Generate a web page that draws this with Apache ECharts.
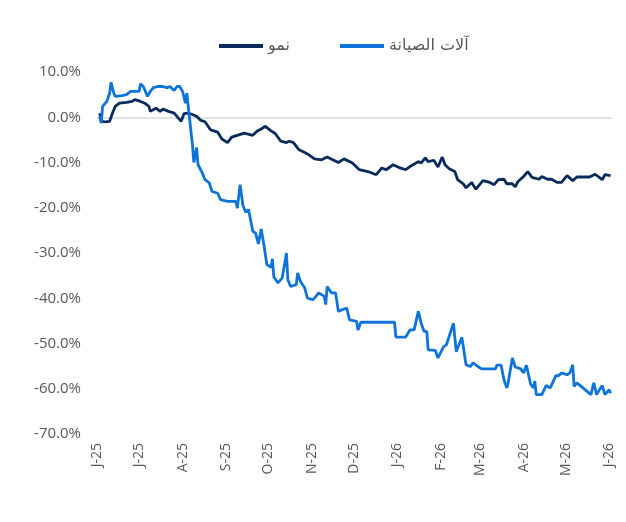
<!DOCTYPE html>
<html>
<head>
<meta charset="utf-8">
<script src="https://cdn.jsdelivr.net/npm/echarts@6/dist/echarts.min.js"></script>
<style>
  html, body { margin: 0; padding: 0; background: #fff; }
  #chart { width: 626px; height: 522px; }
</style>
</head>
<body>
<div id="chart"></div>
<script>
// days counted from 1 Jun 2025
const growthDay = [2, 3, 6, 9, 11, 13, 16, 21, 25, 27, 31, 34, 37, 38, 42, 45, 47, 51, 55, 58, 60, 62, 65, 68, 71, 74, 77, 81, 86, 89, 93, 96, 101, 105, 111, 114, 117, 120, 124, 127, 131, 135, 137, 140, 144, 148, 151, 155, 160, 164, 168, 172, 176, 182, 187, 193, 199, 203, 206, 211, 216, 220, 224, 229, 231, 234, 236, 240, 243, 246, 248, 251, 255, 257, 261, 263, 267, 270, 275, 280, 283, 286, 290, 292, 296, 298, 300, 304, 307, 310, 315, 317, 321, 324, 328, 331, 335, 339, 342, 351, 355, 360, 362, 366]
const growthValue = [0.9, -0.9, -1.0, -0.9, 0.9, 2.4, 3.1, 3.3, 3.5, 3.9, 3.5, 3.1, 2.4, 1.3, 2.0, 1.3, 1.8, 1.3, 0.9, -0.2, -0.9, 0.8, 0.9, 0.6, 0.2, -0.7, -1.0, -2.8, -3.3, -4.8, -5.6, -4.4, -3.9, -3.5, -4.0, -3.1, -2.6, -2.0, -3.0, -3.6, -5.3, -5.6, -5.3, -5.6, -7.2, -7.8, -8.3, -9.2, -9.4, -8.8, -9.4, -10.0, -9.2, -10.1, -11.6, -12.0, -12.7, -11.2, -11.6, -10.5, -11.2, -11.6, -10.7, -9.8, -10.1, -9.0, -9.8, -9.5, -11.0, -8.8, -10.5, -11.4, -12.0, -13.8, -14.7, -15.6, -14.4, -15.9, -14.0, -14.4, -14.9, -13.8, -13.7, -14.7, -14.7, -15.4, -14.2, -13.1, -12.0, -13.3, -13.7, -13.1, -13.7, -13.7, -14.4, -14.4, -12.9, -14.0, -13.2, -13.2, -12.6, -13.8, -12.7, -12.9]

const maintDay = [2, 3, 4, 7, 9, 10, 12, 13, 18, 21, 24, 30, 31, 33, 36, 38, 40, 43, 47, 50, 52, 55, 57, 59, 61, 63, 64, 65, 66, 68, 69, 71, 72, 75, 77, 80, 82, 86, 88, 93, 99, 100, 102, 104, 106, 108, 111, 113, 115, 117, 119, 121, 124, 125, 126, 129, 132, 135, 136, 138, 142, 143, 145, 148, 150, 154, 156, 158, 162, 163, 164, 167, 170, 172, 175, 178, 180, 185, 186, 188, 212, 213, 220, 223, 226, 229, 231, 233, 235, 236, 241, 243, 247, 249, 254, 256, 257, 260, 263, 266, 268, 272, 274, 284, 285, 288, 290, 292, 293, 296, 298, 302, 304, 306, 309, 311, 312, 313, 317, 320, 323, 327, 329, 331, 335, 337, 339, 340, 342, 352, 354, 356, 360, 362, 365, 366]
const maintValue = [0.2, -1.3, 2.4, 3.5, 5.3, 7.7, 5.3, 4.6, 4.8, 5.0, 5.7, 5.7, 7.4, 6.8, 4.6, 5.7, 6.5, 6.8, 6.8, 6.5, 6.8, 5.9, 6.8, 6.8, 5.7, 3.1, 5.3, 5.7, -0.4, -6.0, -10.0, -6.7, -10.5, -12.3, -13.8, -14.5, -16.4, -16.8, -18.2, -18.6, -18.6, -20.1, -14.9, -19.5, -21.0, -20.4, -25.2, -25.6, -28.0, -24.7, -28.3, -32.5, -33.2, -31.3, -35.3, -36.6, -35.5, -30.0, -35.9, -37.4, -37.0, -34.4, -36.3, -37.7, -40.0, -40.3, -39.6, -38.8, -39.6, -41.4, -37.4, -38.8, -38.8, -42.9, -42.5, -42.2, -44.8, -45.1, -47.0, -45.3, -45.3, -48.6, -48.6, -47.0, -47.0, -42.9, -45.5, -47.3, -47.3, -51.4, -51.5, -53.2, -50.7, -50.3, -45.5, -51.8, -51.4, -48.6, -54.7, -55.1, -54.3, -55.2, -55.6, -55.6, -54.8, -54.8, -58.0, -59.8, -58.7, -53.2, -55.2, -55.6, -56.5, -54.8, -59.0, -59.8, -58.3, -61.3, -61.3, -59.3, -59.8, -57.1, -57.1, -56.5, -56.9, -56.5, -54.7, -59.5, -58.7, -61.3, -58.7, -61.3, -59.3, -61.3, -60.2, -61.0]

const seriesNames = ['نمو', 'آلات الصيانة']
const monthLetters = ['J', 'F', 'M', 'A', 'M', 'J', 'J', 'A', 'S', 'O', 'N', 'D']

const DAY = 24 * 3600 * 1000
const start = new Date(2025, 5, 1).getTime()
const toTime = d => start + d * DAY

const chart = echarts.init(document.getElementById('chart'))

const option = {
    animation: false,
    color: ['#082b5c', '#0f74d9'],
    textStyle: { fontFamily: 'Open Sans' },
    legend: {
        left: 214,
        top: 33,
        itemGap: 50,
        itemWidth: 44,
        itemHeight: 4,
        icon: 'rect',
        textStyle: { fontSize: 16, color: '#595959', fontFamily: 'DejaVu Sans' },
        data: seriesNames
    },
    grid: { left: 97, right: 14, top: 72, bottom: 88 },
    xAxis: {
        type: 'time',
        min: toTime(0),
        max: toTime(367),
        minInterval: 28 * DAY,
        maxInterval: 31 * DAY,
        axisLine: { show: false },
        axisTick: { show: false },
        splitLine: { show: false },
        axisLabel: {
            rotate: 90,
            margin: 9,
            fontSize: 14,
            color: '#595959',
            formatter: function (val) {
                const d = new Date(val)
                return monthLetters[d.getMonth()] + '-' + String(d.getFullYear()).slice(2)
            }
        }
    },
    yAxis: {
        type: 'value',
        min: -70,
        max: 10,
        interval: 10,
        axisLine: { show: false },
        axisTick: { show: false },
        splitLine: {
            show: true,
            lineStyle: {
                width: 1.5,
                color: ['transparent', 'transparent', 'transparent', 'transparent', 'transparent', 'transparent', 'transparent', '#d9d9d9', 'transparent']
            }
        },
        axisLabel: {
            fontSize: 15,
            color: '#595959',
            margin: 16,
            formatter: v => v.toFixed(1) + '%'
        }
    },
    series: [
        {
            name: seriesNames[0],
            type: 'line',
            showSymbol: false,
            symbol: 'none',
            lineStyle: { width: 2.8 },
            data: growthDay.map((d, i) => [toTime(d), growthValue[i]])
        },
        {
            name: seriesNames[1],
            type: 'line',
            showSymbol: false,
            symbol: 'none',
            lineStyle: { width: 2.8 },
            data: maintDay.map((d, i) => [toTime(d), maintValue[i]])
        }
    ]
}

chart.setOption(option)
</script>
</body>
</html>
